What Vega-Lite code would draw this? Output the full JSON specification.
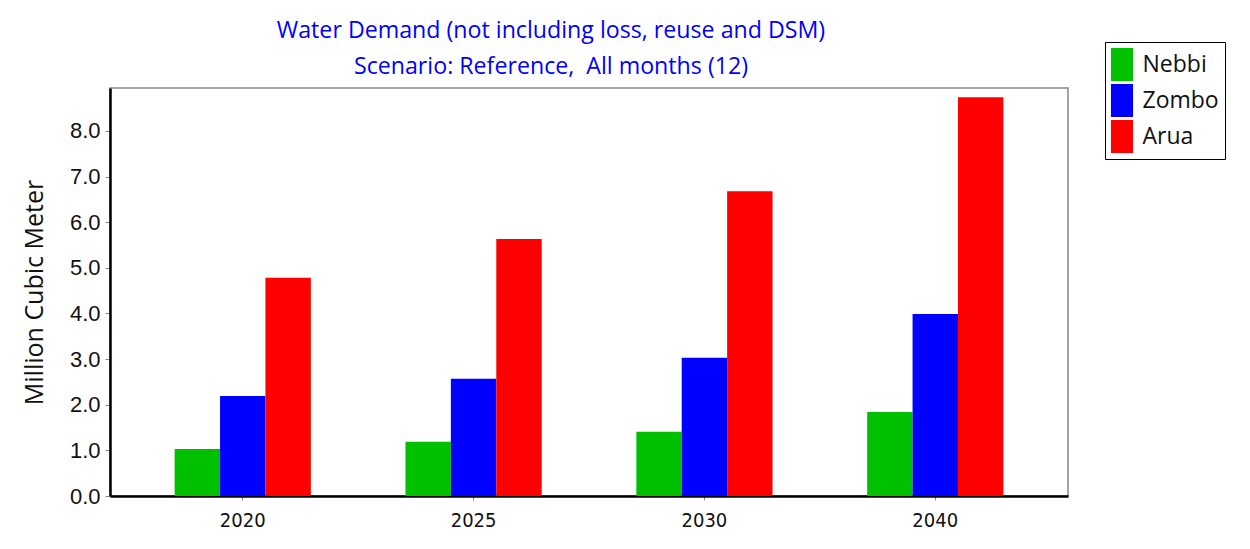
{
  "$schema": "https://vega.github.io/schema/vega-lite/v6.json",
  "autosize": {"type": "none"},
  "width": 958,
  "height": 408,
  "padding": {"left": 110, "top": 88, "right": 182, "bottom": 53},
  "background": "white",
  "title": {
    "text": ["Water Demand (not including loss, reuse and DSM)", "Scenario: Reference,\u00a0 All months (12)"],
    "color": "#0000FF",
    "font": "Open Sans",
    "fontSize": 23.2,
    "fontWeight": "normal",
    "lineHeight": 36,
    "anchor": "middle",
    "dx": -38,
    "offset": -38
  },
  "data": {
    "values": [
      {"year": "2020", "region": "Nebbi", "value": 1.03},
      {"year": "2020", "region": "Zombo", "value": 2.19},
      {"year": "2020", "region": "Arua", "value": 4.78},
      {"year": "2025", "region": "Nebbi", "value": 1.19},
      {"year": "2025", "region": "Zombo", "value": 2.57},
      {"year": "2025", "region": "Arua", "value": 5.63},
      {"year": "2030", "region": "Nebbi", "value": 1.41},
      {"year": "2030", "region": "Zombo", "value": 3.03},
      {"year": "2030", "region": "Arua", "value": 6.68},
      {"year": "2040", "region": "Nebbi", "value": 1.84},
      {"year": "2040", "region": "Zombo", "value": 3.99},
      {"year": "2040", "region": "Arua", "value": 8.74}
    ]
  },
  "mark": {"type": "bar"},
  "encoding": {
    "x": {
      "field": "year",
      "type": "nominal",
      "scale": {"paddingInner": 0.41, "paddingOuter": 0.28},
      "axis": {
        "title": null,
        "labelAngle": 0,
        "labelFont": "DejaVu Sans Condensed, Roboto, sans-serif",
        "labelFontSize": 20,
        "labelColor": "#111111",
        "labelPadding": 10,
        "tickColor": "#888888",
        "tickSize": 4,
        "domainColor": "black",
        "domainWidth": 2.5
      }
    },
    "xOffset": {"field": "region", "type": "nominal", "sort": ["Nebbi", "Zombo", "Arua"]},
    "y": {
      "field": "value",
      "type": "quantitative",
      "scale": {"domain": [0, 8.94], "nice": false, "zero": true},
      "axis": {
        "title": "Million Cubic Meter",
        "titleFont": "Open Sans",
        "titleFontSize": 25,
        "titleFontWeight": "normal",
        "titleColor": "#111111",
        "titlePadding": 22,
        "values": [0, 1, 2, 3, 4, 5, 6, 7, 8],
        "format": ".1f",
        "labelFont": "Liberation Sans",
        "labelFontSize": 22,
        "labelColor": "#111111",
        "labelPadding": 5,
        "tickColor": "#888888",
        "tickSize": 5,
        "grid": false,
        "domainColor": "black",
        "domainWidth": 2.5
      }
    },
    "color": {
      "field": "region",
      "type": "nominal",
      "sort": ["Nebbi", "Zombo", "Arua"],
      "scale": {"domain": ["Nebbi", "Zombo", "Arua"], "range": ["#00C000", "#0000FF", "#FF0000"]},
      "legend": {
        "title": null,
        "orient": "none",
        "legendX": 995,
        "legendY": -46,
        "strokeColor": "black",
        "fillColor": "white",
        "padding": 6,
        "symbolType": "M-0.67,-1H0.67V1H-0.67Z",
        "symbolSize": 1089,
        "symbolOffset": -5.5,
        "symbolStrokeWidth": 0,
        "symbolOpacity": 1,
        "labelFont": "Open Sans",
        "labelFontSize": 23,
        "labelColor": "#111111",
        "labelOffset": 4,
        "labelExpr": "datum.label + '\u00a0\u00a0\u00a0'",
        "rowPadding": 3,
        "labelLimit": 200
      }
    }
  },
  "config": {
    "view": {"stroke": "#888888", "strokeWidth": 1.5}
  }
}
